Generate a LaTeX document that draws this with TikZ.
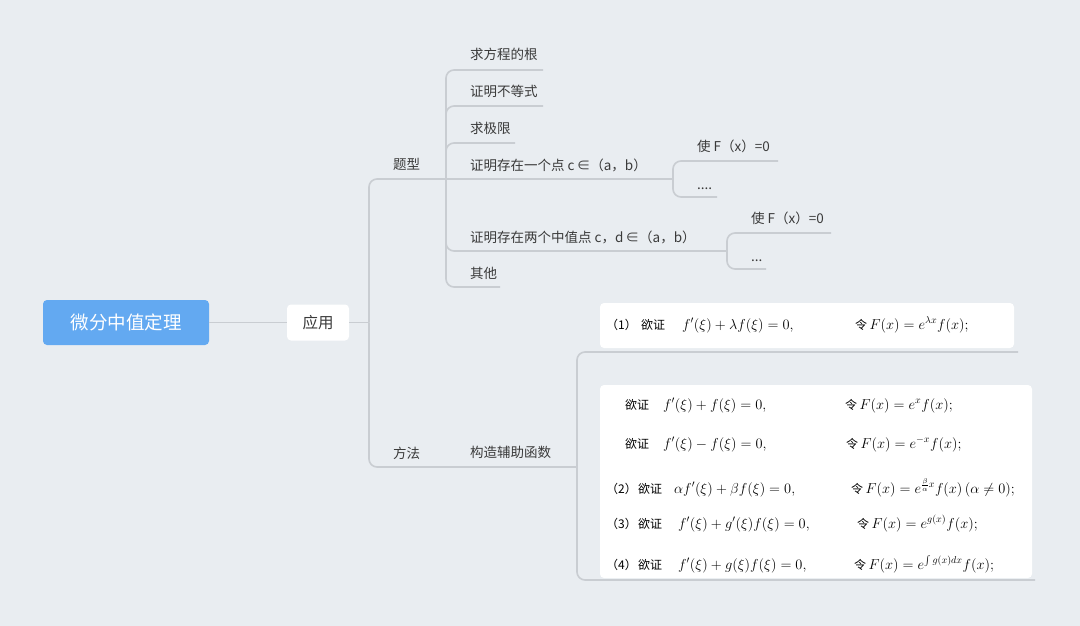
\documentclass[tikz,border=0pt]{standalone}
\usepackage{fontspec}
\usepackage{amsmath}
\newfontfamily\cjk{Noto Sans CJK SC}
\definecolor{bgc}{HTML}{E9EDF1}
\definecolor{rootc}{HTML}{63A9F1}
\definecolor{linec}{HTML}{C9CDD2}
\definecolor{txt}{HTML}{3A3A3A}
\tikzset{
  conn/.style={draw=linec, line width=1.6pt, rounded corners=8pt},
  lbl/.style={anchor=base west, inner sep=0pt, text=txt, font=\cjk\fontsize{13.5}{16}\selectfont},
  cn/.style={anchor=base west, inner sep=0pt, text=black, font=\cjk\fontsize{12}{14}\selectfont},
  mth/.style={anchor=base west, inner sep=0pt, text=black, font=\fontsize{14.5}{17}\selectfont},
  whitebox/.style={fill=white, rounded corners=4pt},
}
\newcommand{\lng}{{\cjk\fontsize{12}{14}\selectfont 令}\,}
\begin{document}
\begin{tikzpicture}[x=1pt,y=-1pt]
\useasboundingbox (0,0) rectangle (1080,626);
\fill[bgc] (0,0) rectangle (1080,626);

% main nodes
\node[fill=rootc, rounded corners=4pt, minimum width=166pt, minimum height=45pt, inner sep=0pt,
      text=white, font=\cjk\fontsize{18.5}{22}\selectfont] (root) at (126,322.5) {微分中值定理};
\node[fill=white, rounded corners=4pt, minimum width=62pt, minimum height=36pt, inner sep=0pt,
      text=txt, font=\cjk\fontsize{15.5}{18}\selectfont] (yy) at (318,322.5) {应用};

% coordinates of connector ends
\coordinate (hub) at (369,322.5);
\coordinate (txE) at (446,179);
\coordinate (ffE) at (577,467);
\coordinate (c1E) at (543,70);
\coordinate (c2E) at (543,106);
\coordinate (c3E) at (515,143);
\coordinate (c4E) at (673,179);
\coordinate (c5E) at (727,251);
\coordinate (c6E) at (500,287);
\coordinate (d1E) at (778,161);
\coordinate (d2E) at (717,197);
\coordinate (e1E) at (831,233);
\coordinate (e2E) at (766,269);
\coordinate (f1E) at (1018,352);
\coordinate (f2E) at (1035,580);

% connectors
\draw[conn] (root.east) -- (yy.west);
\draw[conn] (yy.east) -- (hub);
\draw[conn] (hub) |- (txE);
\draw[conn] (hub) |- (ffE);
\draw[conn] (txE) |- (c1E);
\draw[conn] (txE) |- (c2E);
\draw[conn] (txE) |- (c3E);
\draw[conn] (txE) -- (c4E);
\draw[conn] (txE) |- (c5E);
\draw[conn] (txE) |- (c6E);
\draw[conn] (c4E) |- (d1E);
\draw[conn] (c4E) |- (d2E);
\draw[conn] (c5E) |- (e1E);
\draw[conn] (c5E) |- (e2E);
\draw[conn] (ffE) |- (f1E);
\draw[conn] (ffE) |- (f2E);

% labels
\node[lbl] (tx) at (393,169) {题型};
\node[lbl] (ff) at (393,458) {方法};
\node[lbl] (c1) at (470,60) {求方程的根};
\node[lbl] (c2) at (470,96) {证明不等式};
\node[lbl] (c3) at (470,133) {求极限};
\node[lbl] (c4) at (470,170) {证明存在一个点 c\,∈（a，b）};
\node[lbl] (c5) at (470,242) {证明存在两个中值点 c，d\,∈（a，b）};
\node[lbl] (c6) at (470,278) {其他};
\node[lbl] (d1) at (697,151) {使 F（x）=0};
\node[lbl] (d2) at (697,189) {....};
\node[lbl] (e1) at (751,223) {使 F（x）=0};
\node[lbl] (e2) at (751,261) {...};
\node[lbl] (gz) at (470,457) {构造辅助函数};

% formula boxes
\path[whitebox] (600,303) rectangle (1014,348);
\path[whitebox] (600,385) rectangle (1032,578);

% box 1
\node[cn] (b1n) at (606,329) {（1）};
\node[cn] (b1a) at (641,329) {欲证};
\node[mth] (b1l) at (682,329) {$f'(\xi)+\lambda f(\xi)=0,$};
\node[mth] (b1r) at (855,329) {\lng$F(x)=e^{\lambda x}f(x);$};

% box 2
\node[cn] (r1a) at (625,409) {欲证};
\node[mth] (r1l) at (663,409) {$f'(\xi)+f(\xi)=0,$};
\node[mth] (r1r) at (845,409) {\lng$F(x)=e^{x}f(x);$};

\node[cn] (r2a) at (625,448) {欲证};
\node[mth] (r2l) at (663,448) {$f'(\xi)-f(\xi)=0,$};
\node[mth] (r2r) at (846,448) {\lng$F(x)=e^{-x}f(x);$};

\node[cn] (r3n) at (606,493) {（2）};
\node[cn] (r3a) at (638,493) {欲证};
\node[mth] (r3l) at (674,493) {$\alpha f'(\xi)+\beta f(\xi)=0,$};
\node[mth] (r3r) at (851,493) {\lng$F(x)=e^{\frac{\beta}{\alpha}x}f(x)\,(\alpha\neq 0);$};

\node[cn] (r4n) at (606,528) {（3）};
\node[cn] (r4a) at (638,528) {欲证};
\node[mth] (r4l) at (678,528) {$f'(\xi)+g'(\xi)f(\xi)=0,$};
\node[mth] (r4r) at (857,528) {\lng$F(x)=e^{g(x)}f(x);$};

\node[cn] (r5n) at (606,569) {（4）};
\node[cn] (r5a) at (638,569) {欲证};
\node[mth] (r5l) at (678,569) {$f'(\xi)+g(\xi)f(\xi)=0,$};
\node[mth] (r5r) at (854,569) {\lng$F(x)=e^{\int g(x)dx}f(x);$};
\end{tikzpicture}
\end{document}
